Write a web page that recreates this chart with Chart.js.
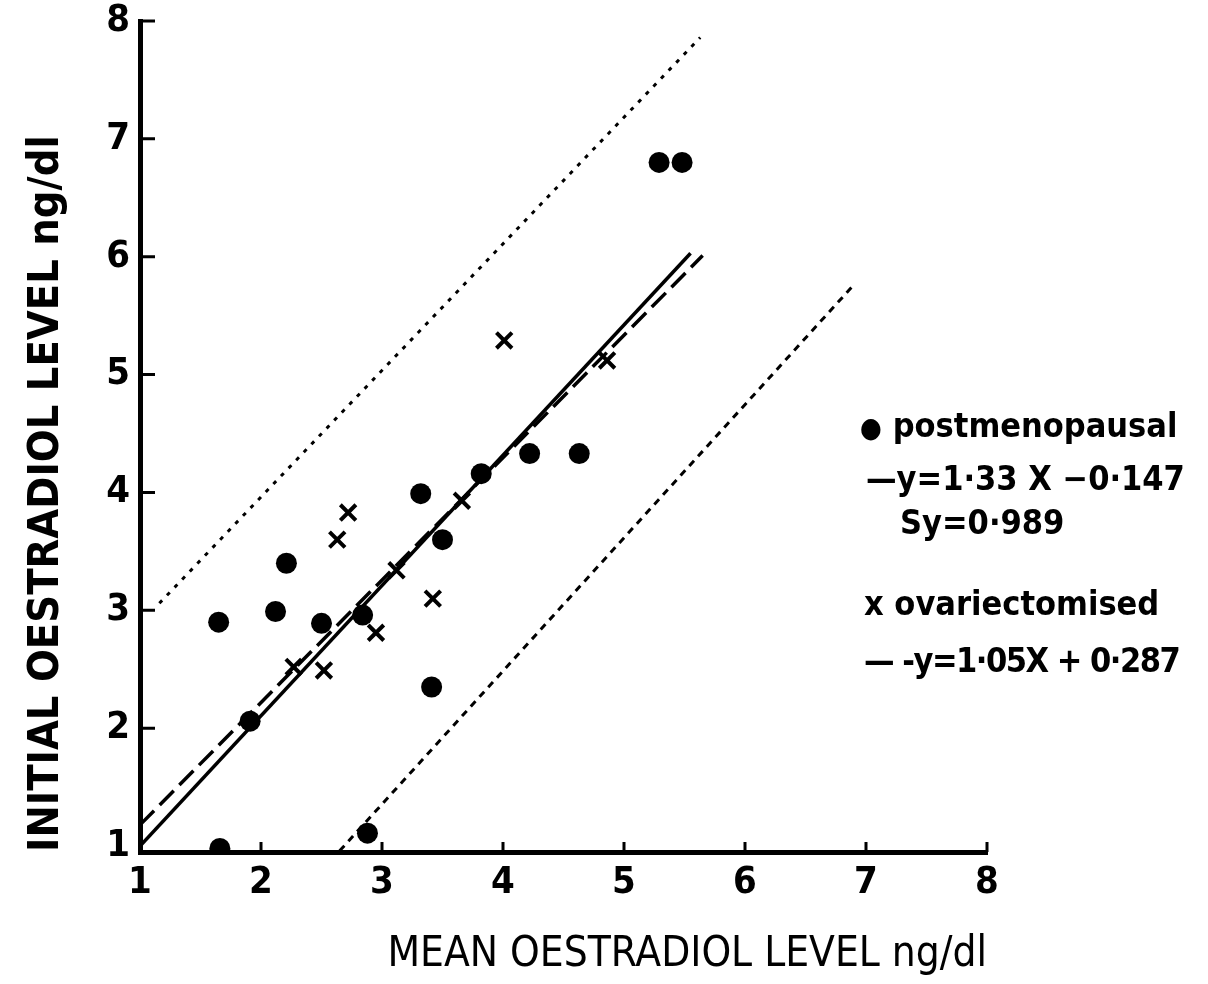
<!doctype html>
<html lang="en">
<head>
<meta charset="utf-8">
<title>Oestradiol levels</title>
<style>
  * { margin: 0; padding: 0; }
  body { background: #fff; }
  .chartBox { position: relative; width: 1208px; height: 984px; background: #fff; }
  .key {
    position: absolute;
    font-family: "DejaVu Sans Condensed", "DejaVu Sans", sans-serif;
    font-weight: bold;
    font-size: 34px;
    line-height: 34px;
    color: #000;
    white-space: nowrap;
  }
  .key .dot { font-size: 28px; }
</style>
</head>
<body>
<div class="chartBox">
  <canvas id="oestradiolChart"></canvas>
  <div class="key" style="left:860px; top:408px"><span class="dot">●</span> postmenopausal</div>
  <div class="key" style="left:866px; top:461px">—y=1·33 X −0·147</div>
  <div class="key" style="left:900px; top:505px">Sy=0·989</div>
  <div class="key" style="left:864px; top:586px">x ovariectomised</div>
  <div class="key" style="left:864px; top:643px; letter-spacing:-1.5px">— -y=1·05X + 0·287</div>
</div>

<script src="https://cdn.jsdelivr.net/npm/chart.js"></script>
<script>
  // postmenopausal women (dots)
  const postX = [1.65, 2.12, 2.21, 2.50, 2.84, 3.32, 3.50, 3.41, 1.91, 2.88, 1.66, 3.82, 4.22, 4.63, 5.29, 5.48];
  const postY = [2.90, 2.99, 3.40, 2.89, 2.96, 3.99, 3.60, 2.35, 2.06, 1.11, 0.98, 4.16, 4.33, 4.33, 6.80, 6.80];

  // ovariectomised women (crosses)
  const ovaX = [4.01, 4.86, 3.66, 2.72, 2.63, 3.12, 3.42, 2.95, 2.52, 2.27];
  const ovaY = [5.29, 5.12, 3.93, 3.83, 3.60, 3.34, 3.10, 2.81, 2.49, 2.52];

  // fitted lines and the two limit lines, as [start, end]
  const postFitX = [1.0, 5.55];
  const postFitY = [1.0, 6.03];
  const ovaFitX = [1.0, 5.65];
  const ovaFitY = [1.18, 6.01];
  const upperLimitX = [1.16, 5.63];
  const upperLimitY = [3.06, 7.86];
  const lowerLimitX = [2.65, 6.88];
  const lowerLimitY = [0.96, 5.74];

  const xTicks = [1, 2, 3, 4, 5, 6, 7, 8];
  const yTicks = [1, 2, 3, 4, 5, 6, 7, 8];

  const pts = (xs, ys) => xs.map((v, i) => ({ x: v, y: ys[i] }));

  const narrow = '"Liberation Sans Narrow", "DejaVu Sans Condensed", sans-serif';

  const lineSet = (xs, ys, dash, width) => ({
    data: pts(xs, ys),
    showLine: true,
    borderColor: '#000',
    borderWidth: width,
    borderDash: dash,
    pointRadius: 0,
    fill: false
  });

  // small tick marks pointing into the plot
  const inwardTicks = {
    id: 'inwardTicks',
    afterDraw(chart) {
      const { ctx, scales: { x, y } } = chart;
      ctx.save();
      ctx.strokeStyle = '#000';
      ctx.lineWidth = 3;
      ctx.beginPath();
      yTicks.slice(1).forEach(v => {
        const py = y.getPixelForValue(v);
        ctx.moveTo(x.left, py);
        ctx.lineTo(x.left + 15, py);
      });
      xTicks.slice(1).forEach(v => {
        const px = x.getPixelForValue(v);
        ctx.moveTo(px, y.bottom);
        ctx.lineTo(px, y.bottom - 10);
      });
      ctx.stroke();
      ctx.restore();
    }
  };

  const data = {
    datasets: [
      lineSet(upperLimitX, upperLimitY, [4, 7], 3),
      lineSet(lowerLimitX, lowerLimitY, [7, 6], 3),
      lineSet(ovaFitX, ovaFitY, [20, 8], 3.5),
      lineSet(postFitX, postFitY, [], 3.5),
      {
        label: 'postmenopausal',
        data: pts(postX, postY),
        pointStyle: 'circle',
        pointRadius: 10.5,
        backgroundColor: '#000',
        borderColor: '#000',
        borderWidth: 0
      },
      {
        label: 'ovariectomised',
        data: pts(ovaX, ovaY),
        pointStyle: 'crossRot',
        pointRadius: 11,
        borderColor: '#000',
        borderWidth: 4
      }
    ]
  };

  const config = {
    type: 'scatter',
    data,
    options: {
      responsive: true,
      maintainAspectRatio: false,
      animation: false,
      layout: {
        padding: { top: 21, right: 221, bottom: 0, left: 0 }
      },
      scales: {
        x: {
          type: 'linear',
          min: 1,
          max: 8,
          afterBuildTicks: scale => { scale.ticks = xTicks.map(v => ({ value: v })); },
          afterFit: scale => { scale.height = 132; },
          grid: { display: false, drawTicks: false },
          border: { display: true, color: '#000', width: 5 },
          ticks: {
            color: '#000',
            padding: 12,
            font: { family: narrow, size: 38, weight: 'bold', lineHeight: 1 }
          },
          title: {
            display: true,
            text: 'MEAN OESTRADIOL LEVEL ng/dl',
            align: 'end',
            color: '#000',
            padding: { top: 0, bottom: 4 },
            font: { family: narrow, size: 42, lineHeight: 1.2 }
          }
        },
        y: {
          type: 'linear',
          min: 0.95,
          max: 8,
          afterBuildTicks: scale => { scale.ticks = yTicks.map(v => ({ value: v })); },
          afterFit: scale => {
            scale.width = 140;
            // the top label may overhang the plot edge
            scale.paddingTop = 0;
          },
          grid: { display: false, drawTicks: false },
          border: { display: true, color: '#000', width: 5 },
          ticks: {
            color: '#000',
            padding: 10,
            font: { family: narrow, size: 38, weight: 'bold', lineHeight: 1 }
          },
          title: {
            display: true,
            text: 'INITIAL OESTRADIOL LEVEL ng/dl',
            align: 'start',
            color: '#000',
            padding: { top: 25, bottom: 0 },
            font: { family: narrow, size: 43, weight: 'bold', lineHeight: 1 }
          }
        }
      },
      plugins: {
        legend: { display: false },
        tooltip: { enabled: false }
      }
    },
    plugins: [inwardTicks]
  };

  const oestradiolChart = new Chart(document.getElementById('oestradiolChart'), config);
</script>
</body>
</html>
